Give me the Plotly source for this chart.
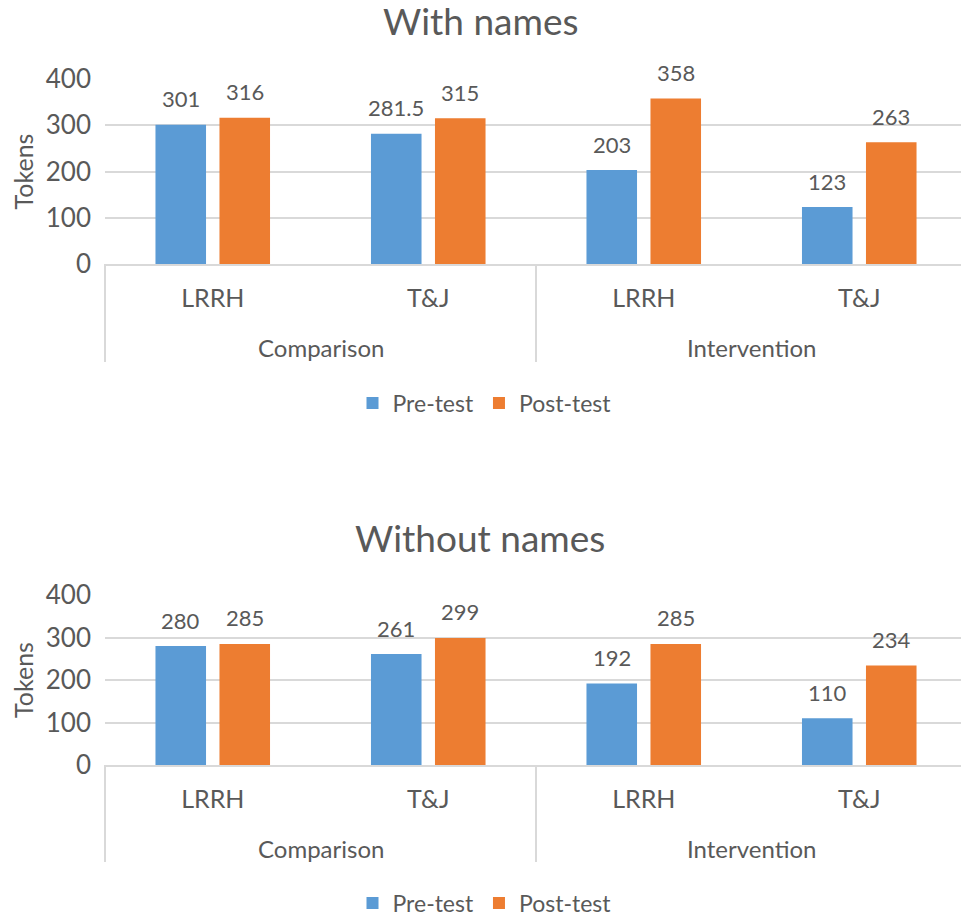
import plotly.graph_objects as go

groups = ["Comparison", "Comparison", "Intervention", "Intervention"]
stories = ["LRRH", "T&J", "LRRH", "T&J"]
with_pre = [301, 281.5, 203, 123]
with_post = [316, 315, 358, 263]
without_pre = [280, 261, 192, 110]
without_post = [285, 299, 285, 234]
titles = ["With names", "Without names"]
series_names = ["Pre-test", "Post-test"]
colors = ["#5B9BD5", "#ED7D31"]
yticks = [0, 100, 200, 300, 400]
group_names = ["Comparison", "Intervention"]

FONT = "Lato"
TXT = "#595959"
GRID = "#D9D9D9"
D = 8                      # page body margin offset
W, H = 969 - D, 920 - D

cats = [f"{g} | {s}" for g, s in zip(groups, stories)]

def py(p):
    return 1 - (p - D) / H

def pxx(p):
    return (p - D) / W

fig = go.Figure()
annotations = []
panels = [
    (with_pre, with_post, "x", "y", "legend"),
    (without_pre, without_post, "x2", "y2", "legend2"),
]
for pre, post, xa, ya, lg in panels:
    for vals, name, col, shift in zip([pre, post], series_names, colors, [-32, 32]):
        fig.add_trace(go.Bar(
            x=cats, y=vals, name=name, marker_color=col, marker_line_width=0,
            xaxis=xa, yaxis=ya, legend=lg, hoverinfo="x+y+name",
        ))
        for c, v in zip(cats, vals):
            annotations.append(dict(
                text=f"{v:g}", x=c, y=v, xref=xa, yref=ya, showarrow=False,
                xshift=shift, yshift=26, xanchor="center", yanchor="middle",
                font=dict(family=FONT, size=22, color=TXT)))

axis_common_x = dict(
    type="category", categoryorder="array", categoryarray=cats,
    tickvals=cats, ticktext=stories,
    showline=True, linecolor=GRID, linewidth=2,
    tickfont=dict(family=FONT, size=25, color=TXT), ticks="",
    ticklabelstandoff=11,
    domain=[pxx(105), pxx(967)], showgrid=False, automargin=False,
)
axis_common_y = dict(
    range=[0, 400], tickvals=yticks, showgrid=True, gridcolor=GRID, gridwidth=2,
    zeroline=False, showline=False, automargin=False,
    tickfont=dict(family=FONT, size=26, color=TXT), ticklabelstandoff=13,
    title=dict(text="Tokens", font=dict(family=FONT, size=25, color=TXT), standoff=12),
)

shapes = []
for axis_y, div_bottom, grp_y, xr in [(264, 362, 348, "x"), (765, 862, 848, "x2")]:
    for xd in [0, 0.5, 1]:
        shapes.append(dict(type="line", xref=f"{xr} domain", yref="paper",
                           x0=xd, x1=xd, y0=py(div_bottom), y1=py(axis_y),
                           line=dict(color=GRID, width=2)))
    for xd, gname in zip([0.25, 0.75], group_names):
        annotations.append(dict(text=gname, xref=f"{xr} domain", yref="paper",
                                x=xd, y=py(grp_y), showarrow=False,
                                xanchor="center", yanchor="middle",
                                font=dict(family=FONT, size=24, color=TXT)))

for t, ypix in zip(titles, [20, 537]):
    annotations.append(dict(text=t, x=pxx(480), y=py(ypix), xref="paper", yref="paper",
                            showarrow=False, xanchor="center", yanchor="middle",
                            font=dict(family=FONT, size=37, color=TXT)))

fig.update_layout(
    width=W, height=H, margin=dict(l=0, r=0, t=0, b=0, autoexpand=False),
    paper_bgcolor="white", plot_bgcolor="white",
    barmode="group", bargap=0.406, bargroupgap=0.21,
    font=dict(family=FONT, color=TXT),
    xaxis=dict(**axis_common_x, anchor="y"),
    yaxis=dict(**axis_common_y, domain=[py(264), py(79)], anchor="x"),
    xaxis2=dict(**axis_common_x, anchor="y2"),
    yaxis2=dict(**axis_common_y, domain=[py(765), py(595)], anchor="x2"),
    legend=dict(orientation="h", x=pxx(484.5), xanchor="center", y=py(403), yanchor="middle",
                font=dict(family=FONT, size=23, color=TXT)),
    legend2=dict(orientation="h", x=pxx(484.5), xanchor="center", y=py(903), yanchor="middle",
                 font=dict(family=FONT, size=23, color=TXT)),
    shapes=shapes,
    annotations=annotations,
)
fig.write_html("out.html")
